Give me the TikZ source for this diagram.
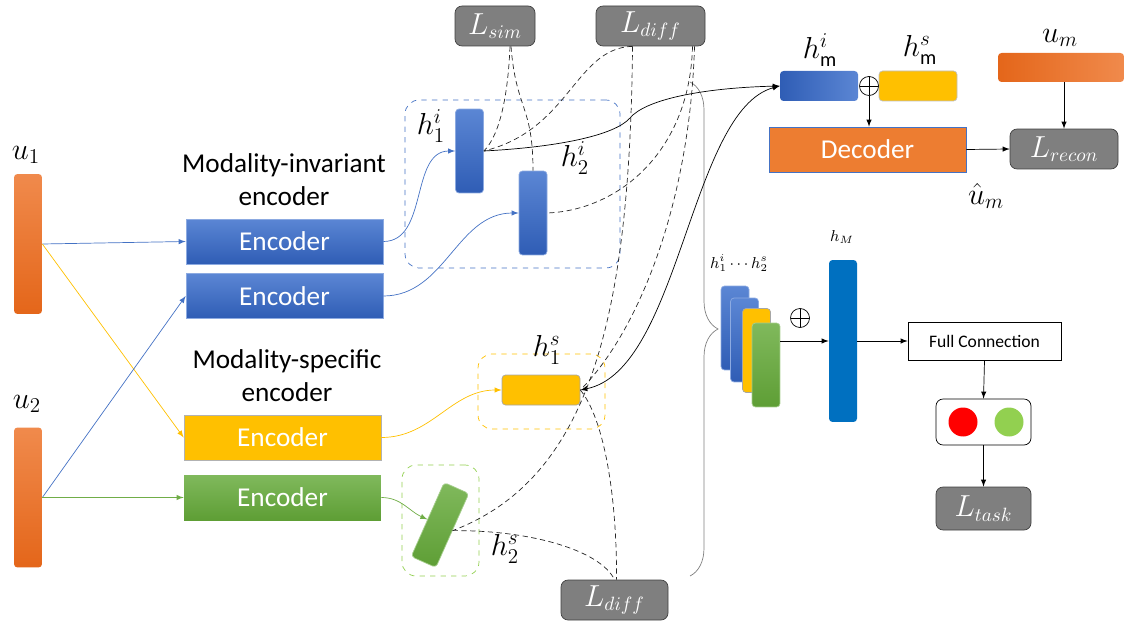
\documentclass[tikz,border=0pt]{standalone}
\usepackage{fontspec}
\setmainfont{Carlito}
\usepackage{tikz}
\usetikzlibrary{arrows}
\usetikzlibrary{shapes}
\usetikzlibrary{calc}
\usetikzlibrary{decorations.pathreplacing}
\definecolor{encblue}{HTML}{4472C4}
\definecolor{bluetop}{HTML}{5B86D4}
\definecolor{bluebot}{HTML}{2F5DB5}
\definecolor{orangetop}{HTML}{F08A4C}
\definecolor{orangebot}{HTML}{E4661A}
\definecolor{decorange}{HTML}{ED7D31}
\definecolor{gold}{HTML}{FFC000}
\definecolor{greentop}{HTML}{80B95C}
\definecolor{greenbot}{HTML}{5E9E35}
\definecolor{encgreen}{HTML}{70AD47}
\definecolor{lightgreen}{HTML}{92D050}
\definecolor{lossgray}{HTML}{7F7F7F}
\definecolor{lossedge}{HTML}{404040}
\definecolor{deepblue}{HTML}{0070C0}
\tikzstyle{VecNode}=[rectangle, rounded corners=2pt, inner sep=0pt, minimum width=0.56cm, minimum height=1.68cm]
\tikzstyle{BlueVec}=[VecNode, top color=bluetop, bottom color=bluebot, draw=bluetop!70!white]
\tikzstyle{GoldVec}=[VecNode, fill=gold, draw=gray!70]
\tikzstyle{GreenVec}=[VecNode, top color=greentop, bottom color=greenbot, draw=greentop!70!white]
\tikzstyle{InputNode}=[VecNode, top color=orangetop, bottom color=orangebot, minimum height=2.8cm]
\tikzstyle{HVec}=[VecNode, minimum width=1.56cm, minimum height=0.6cm]
\tikzstyle{EncNode}=[rectangle, inner sep=0pt, minimum width=3.94cm, minimum height=0.9cm, text=white, font=\fontsize{15.5}{17}\selectfont]
\tikzstyle{BlueEnc}=[EncNode, top color=bluetop, bottom color=bluebot, draw=bluetop!70!white]
\tikzstyle{GoldEnc}=[EncNode, fill=gold, draw=gray!60]
\tikzstyle{GreenEnc}=[EncNode, top color=greentop, bottom color=greenbot]
\tikzstyle{DecNode}=[EncNode, fill=decorange, draw=encblue]
\tikzstyle{TitleNode}=[align=center, font=\fontsize{15.5}{18.7}\selectfont]
\tikzstyle{GroupBox}=[rectangle, rounded corners=8pt, dashed, thin]
\tikzstyle{LossNode}=[rectangle, rounded corners=4pt, inner sep=0pt, fill=lossgray, draw=lossedge, text=white, minimum height=0.8cm, font=\fontsize{16}{18}\selectfont]
\tikzstyle{SumNode}=[circle, draw, thin, inner sep=0pt, minimum size=0.38cm, path picture={\draw (path picture bounding box.north) -- (path picture bounding box.south) (path picture bounding box.west) -- (path picture bounding box.east);}]
\tikzstyle{FCNode}=[rectangle, draw, fill=white, minimum width=3.06cm, minimum height=0.76cm, font=\fontsize{10}{12}\selectfont]
\tikzstyle{OutNode}=[rectangle, draw, rounded corners=4pt, minimum width=1.9cm, minimum height=0.92cm]
\tikzstyle{DotNode}=[circle, inner sep=0pt, minimum size=0.58cm]
\tikzstyle{LabelNode}=[inner sep=1pt, font=\fontsize{16.5}{19}\selectfont]
\tikzstyle{SmallLabel}=[inner sep=1pt, font=\fontsize{9}{11}\selectfont]
\tikzstyle{InEdge}=[->, thin]
\tikzstyle{FlowEdge}=[->, black]
\tikzstyle{LossEdge}=[black!85, dash pattern=on 3pt off 2pt, thin]
\tikzset{>=latex}

\begin{document}
\begin{tikzpicture}[x=0.02cm, y=-0.02cm]
\useasboundingbox (0,0) rectangle (1124,621);

\node[InputNode](U1) at (28,244) {};
\node[InputNode](U2) at (28,497.5) {};
\node[LabelNode](U1Lab) at (26,155) {$u_1$};
\node[LabelNode](U2Lab) at (27,404) {$u_2$};

\node[TitleNode](InvTitle) at (284,180) {Modality-invariant\\encoder};
\node[TitleNode](SpeTitle) at (287,376) {Modality-specific\\encoder};
\node[BlueEnc](EncI1) at (284.5,241.5) {Encoder};
\node[BlueEnc](EncI2) at (284.5,296) {Encoder};
\node[GoldEnc](EncS1) at (282.5,437.5) {Encoder};
\node[GreenEnc](EncS2) at (282.5,497.5) {Encoder};

\node[GroupBox, draw=encblue, minimum width=4.3cm, minimum height=3.36cm](InvBox) at (512.5,184) {};
\node[GroupBox, draw=gold, minimum width=2.54cm, minimum height=1.5cm](SpeBoxA) at (541.5,391.5) {};
\node[GroupBox, draw=lightgreen, minimum width=1.54cm, minimum height=2.22cm](SpeBoxB) at (440.5,520.5) {};

\node[BlueVec](H1i) at (469.5,151) {};
\node[BlueVec](H2i) at (533,213) {};
\node[GoldVec, minimum width=1.56cm, minimum height=0.6cm](H1s) at (541,390) {};
\node[GreenVec, minimum width=1.62cm, minimum height=0.54cm, rotate=66](H2s) at (440,525) {};
\node[LabelNode](H1iLab) at (431,126) {$h_1^i$};
\node[LabelNode](H2iLab) at (575,158) {$h_2^i$};
\node[LabelNode](H1sLab) at (547,350) {$h_1^s$};
\node[LabelNode](H2sLab) at (505,549) {$h_2^s$};

\node[LossNode, minimum width=1.6cm](Lsim) at (495,26) {$L_{sim}$};
\node[LossNode, minimum width=2.18cm](LdiffA) at (650.5,26) {$L_{diff}$};
\node[LossNode, minimum width=2.14cm](LdiffB) at (614.5,600) {$L_{diff}$};

\coordinate (BraceTop) at (690,82);
\coordinate (BraceBot) at (690,576);
\draw[gray, decorate, decoration={brace, amplitude=0.56cm}](BraceTop) -- (BraceBot);

\node[BlueVec](StA) at (735,328) {};
\node[BlueVec](StB) at (744.5,340) {};
\node[GoldVec](StC) at (756.5,350.5) {};
\node[GreenVec](StD) at (766,365) {};
\node[SmallLabel](StLab) at (739,263) {$h_1^i \cdots h_2^s$};
\node[SumNode](SumA) at (800,318) {};
\node[VecNode, fill=deepblue, minimum height=3.24cm](HM) at (843,341) {};
\node[SmallLabel](HMLab) at (842,237) {$h_M$};
\node[FCNode](FC) at (984.5,341) {Full Connection};
\node[OutNode](Out) at (983.5,422) {};
\node[DotNode, fill=red](OutA) at (963,422) {};
\node[DotNode, fill=lightgreen](OutB) at (1009,422) {};
\node[LossNode, minimum width=1.9cm, minimum height=0.86cm](Ltask) at (983.5,508.5) {$L_{task}$};

\node[HVec, left color=bluebot, right color=bluetop](Hmi) at (819,86) {};
\node[HVec, fill=gold, draw=gray!50](Hms) at (918,86) {};
\node[SumNode, fill=white](SumB) at (869,86) {};
\node[LabelNode](HmiLab) at (820,50) {$h_{\mathrm{m}}^i$};
\node[LabelNode](HmsLab) at (920,50) {$h_{\mathrm{m}}^s$};
\node[DecNode](Dec) at (867.5,149.5) {Decoder};
\node[LossNode, minimum width=2.16cm](Lrecon) at (1064,149) {$L_{recon}$};
\node[HVec, left color=orangebot, right color=orangetop, minimum width=2.52cm, minimum height=0.58cm](Um) at (1061,67.5) {};
\node[LabelNode](UmLab) at (1060,38) {$u_m$};
\node[LabelNode](UhatLab) at (986,196) {$\hat{u}_m$};

\draw[InEdge, encblue](U1.east) -- (EncI1.west);
\draw[InEdge, gold](U1.east) -- (EncS1.west);
\draw[InEdge, encblue](U2.east) -- (EncI2.west);
\draw[InEdge, encgreen](U2.east) -- (EncS2.west);

\draw[InEdge, encblue](EncI1.east) to[out=0, in=180] (H1i.west);
\draw[InEdge, encblue](EncI2.east) to[out=0, in=180] (H2i.west);
\draw[InEdge, gold](EncS1.east) to[out=0, in=180] (H1s.west);
\draw[InEdge, encgreen](EncS2.east) to[out=0, in=156] (H2s.north);

\draw[FlowEdge](H1i.east) .. controls (560,147) and (615,135) .. (630,118) .. controls (645,100) and (700,88) .. (Hmi.west);
\draw[FlowEdge, <->](H1s.east) .. controls (680,370) and (690,110) .. (Hmi.west);

\draw[LossEdge]($(Lsim.south)+(15,0)$) .. controls (508,95) and (500,135) .. (H1i.east);
\draw[LossEdge]($(Lsim.south)+(16,0)$) .. controls (516,110) and (533,105) .. (H2i.north);
\draw[LossEdge]($(LdiffA.south)+(-18,0)$) .. controls (575,48) and (570,130) .. (H1i.east);
\draw[LossEdge]($(LdiffA.south)+(-18,0)$) .. controls (630,330) and (585,480) .. (H2s.south);
\draw[LossEdge]($(LdiffA.south)+(42,0)$) .. controls (690,150) and (620,210) .. (H2i.east);
\draw[LossEdge]($(LdiffA.south)+(44,0)$) .. controls (690,200) and (640,330) .. (H1s.east);
\draw[LossEdge](H1s.east) .. controls (605,420) and (617,500) .. ($(LdiffB.north)+(2,0)$);
\draw[LossEdge](H2s.south) .. controls (530,530) and (600,550) .. (LdiffB.north);

\draw[FlowEdge](StD.east |- HM.west) -- (HM.west);
\draw[FlowEdge](HM.east) -- (FC.west);
\draw[FlowEdge](FC.south) -- (Out.north);
\draw[FlowEdge](Out.south) -- (Ltask.north);
\draw[FlowEdge](SumB.south) -- (SumB.south |- Dec.north);
\draw[FlowEdge](Dec.east) -- (Lrecon.west);
\draw[FlowEdge](Lrecon.north |- Um.south) -- (Lrecon.north);
\end{tikzpicture}
\end{document}
